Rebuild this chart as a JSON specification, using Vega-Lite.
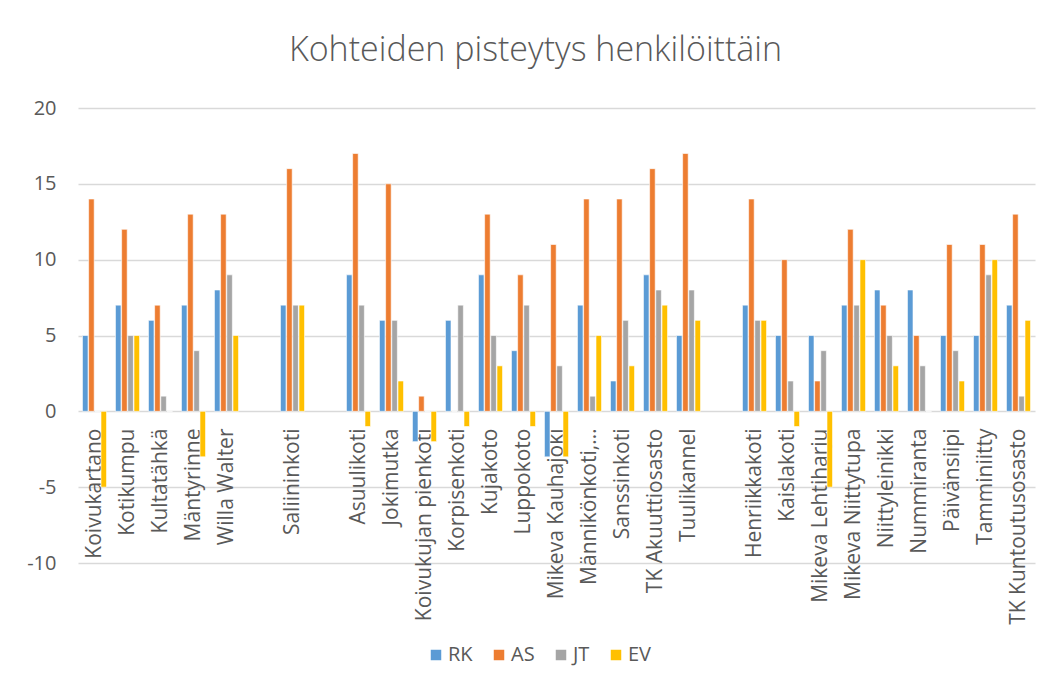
{
  "$schema": "https://vega.github.io/schema/vega-lite/v6.json",
  "width": 957,
  "height": 455,
  "autosize": {"type": "none"},
  "padding": {"left": 78, "top": 108, "right": 15, "bottom": 125},
  "background": "white",
  "title": {
    "text": "Kohteiden pisteytys henkilöittäin",
    "font": "Open Sans",
    "fontSize": 34,
    "fontWeight": 300,
    "color": "#595959",
    "anchor": "middle",
    "dx": -21,
    "offset": 30
  },
  "datasets": {
    "pisteet": [
      {"kohde": "Koivukartano", "henkilo": "RK", "pisteet": 5},
      {"kohde": "Koivukartano", "henkilo": "AS", "pisteet": 14},
      {"kohde": "Koivukartano", "henkilo": "JT", "pisteet": 0},
      {"kohde": "Koivukartano", "henkilo": "EV", "pisteet": -5},
      {"kohde": "Kotikumpu", "henkilo": "RK", "pisteet": 7},
      {"kohde": "Kotikumpu", "henkilo": "AS", "pisteet": 12},
      {"kohde": "Kotikumpu", "henkilo": "JT", "pisteet": 5},
      {"kohde": "Kotikumpu", "henkilo": "EV", "pisteet": 5},
      {"kohde": "Kultatähkä", "henkilo": "RK", "pisteet": 6},
      {"kohde": "Kultatähkä", "henkilo": "AS", "pisteet": 7},
      {"kohde": "Kultatähkä", "henkilo": "JT", "pisteet": 1},
      {"kohde": "Kultatähkä", "henkilo": "EV", "pisteet": 0},
      {"kohde": "Mäntyrinne", "henkilo": "RK", "pisteet": 7},
      {"kohde": "Mäntyrinne", "henkilo": "AS", "pisteet": 13},
      {"kohde": "Mäntyrinne", "henkilo": "JT", "pisteet": 4},
      {"kohde": "Mäntyrinne", "henkilo": "EV", "pisteet": -3},
      {"kohde": "Willa Walter", "henkilo": "RK", "pisteet": 8},
      {"kohde": "Willa Walter", "henkilo": "AS", "pisteet": 13},
      {"kohde": "Willa Walter", "henkilo": "JT", "pisteet": 9},
      {"kohde": "Willa Walter", "henkilo": "EV", "pisteet": 5},
      {"kohde": "Saliininkoti", "henkilo": "RK", "pisteet": 7},
      {"kohde": "Saliininkoti", "henkilo": "AS", "pisteet": 16},
      {"kohde": "Saliininkoti", "henkilo": "JT", "pisteet": 7},
      {"kohde": "Saliininkoti", "henkilo": "EV", "pisteet": 7},
      {"kohde": "Asuulikoti", "henkilo": "RK", "pisteet": 9},
      {"kohde": "Asuulikoti", "henkilo": "AS", "pisteet": 17},
      {"kohde": "Asuulikoti", "henkilo": "JT", "pisteet": 7},
      {"kohde": "Asuulikoti", "henkilo": "EV", "pisteet": -1},
      {"kohde": "Jokimutka", "henkilo": "RK", "pisteet": 6},
      {"kohde": "Jokimutka", "henkilo": "AS", "pisteet": 15},
      {"kohde": "Jokimutka", "henkilo": "JT", "pisteet": 6},
      {"kohde": "Jokimutka", "henkilo": "EV", "pisteet": 2},
      {"kohde": "Koivukujan pienkoti", "henkilo": "RK", "pisteet": -2},
      {"kohde": "Koivukujan pienkoti", "henkilo": "AS", "pisteet": 1},
      {"kohde": "Koivukujan pienkoti", "henkilo": "JT", "pisteet": 0},
      {"kohde": "Koivukujan pienkoti", "henkilo": "EV", "pisteet": -2},
      {"kohde": "Korpisenkoti", "henkilo": "RK", "pisteet": 6},
      {"kohde": "Korpisenkoti", "henkilo": "AS", "pisteet": 0},
      {"kohde": "Korpisenkoti", "henkilo": "JT", "pisteet": 7},
      {"kohde": "Korpisenkoti", "henkilo": "EV", "pisteet": -1},
      {"kohde": "Kujakoto", "henkilo": "RK", "pisteet": 9},
      {"kohde": "Kujakoto", "henkilo": "AS", "pisteet": 13},
      {"kohde": "Kujakoto", "henkilo": "JT", "pisteet": 5},
      {"kohde": "Kujakoto", "henkilo": "EV", "pisteet": 3},
      {"kohde": "Luppokoto", "henkilo": "RK", "pisteet": 4},
      {"kohde": "Luppokoto", "henkilo": "AS", "pisteet": 9},
      {"kohde": "Luppokoto", "henkilo": "JT", "pisteet": 7},
      {"kohde": "Luppokoto", "henkilo": "EV", "pisteet": -1},
      {"kohde": "Mikeva Kauhajoki", "henkilo": "RK", "pisteet": -3},
      {"kohde": "Mikeva Kauhajoki", "henkilo": "AS", "pisteet": 11},
      {"kohde": "Mikeva Kauhajoki", "henkilo": "JT", "pisteet": 3},
      {"kohde": "Mikeva Kauhajoki", "henkilo": "EV", "pisteet": -3},
      {"kohde": "Männikönkoti,…", "henkilo": "RK", "pisteet": 7},
      {"kohde": "Männikönkoti,…", "henkilo": "AS", "pisteet": 14},
      {"kohde": "Männikönkoti,…", "henkilo": "JT", "pisteet": 1},
      {"kohde": "Männikönkoti,…", "henkilo": "EV", "pisteet": 5},
      {"kohde": "Sanssinkoti", "henkilo": "RK", "pisteet": 2},
      {"kohde": "Sanssinkoti", "henkilo": "AS", "pisteet": 14},
      {"kohde": "Sanssinkoti", "henkilo": "JT", "pisteet": 6},
      {"kohde": "Sanssinkoti", "henkilo": "EV", "pisteet": 3},
      {"kohde": "TK Akuuttiosasto", "henkilo": "RK", "pisteet": 9},
      {"kohde": "TK Akuuttiosasto", "henkilo": "AS", "pisteet": 16},
      {"kohde": "TK Akuuttiosasto", "henkilo": "JT", "pisteet": 8},
      {"kohde": "TK Akuuttiosasto", "henkilo": "EV", "pisteet": 7},
      {"kohde": "Tuulikannel", "henkilo": "RK", "pisteet": 5},
      {"kohde": "Tuulikannel", "henkilo": "AS", "pisteet": 17},
      {"kohde": "Tuulikannel", "henkilo": "JT", "pisteet": 8},
      {"kohde": "Tuulikannel", "henkilo": "EV", "pisteet": 6},
      {"kohde": "Henriikkakoti", "henkilo": "RK", "pisteet": 7},
      {"kohde": "Henriikkakoti", "henkilo": "AS", "pisteet": 14},
      {"kohde": "Henriikkakoti", "henkilo": "JT", "pisteet": 6},
      {"kohde": "Henriikkakoti", "henkilo": "EV", "pisteet": 6},
      {"kohde": "Kaislakoti", "henkilo": "RK", "pisteet": 5},
      {"kohde": "Kaislakoti", "henkilo": "AS", "pisteet": 10},
      {"kohde": "Kaislakoti", "henkilo": "JT", "pisteet": 2},
      {"kohde": "Kaislakoti", "henkilo": "EV", "pisteet": -1},
      {"kohde": "Mikeva Lehtiharju", "henkilo": "RK", "pisteet": 5},
      {"kohde": "Mikeva Lehtiharju", "henkilo": "AS", "pisteet": 2},
      {"kohde": "Mikeva Lehtiharju", "henkilo": "JT", "pisteet": 4},
      {"kohde": "Mikeva Lehtiharju", "henkilo": "EV", "pisteet": -5},
      {"kohde": "Mikeva Niittytupa", "henkilo": "RK", "pisteet": 7},
      {"kohde": "Mikeva Niittytupa", "henkilo": "AS", "pisteet": 12},
      {"kohde": "Mikeva Niittytupa", "henkilo": "JT", "pisteet": 7},
      {"kohde": "Mikeva Niittytupa", "henkilo": "EV", "pisteet": 10},
      {"kohde": "Niittyleinikki", "henkilo": "RK", "pisteet": 8},
      {"kohde": "Niittyleinikki", "henkilo": "AS", "pisteet": 7},
      {"kohde": "Niittyleinikki", "henkilo": "JT", "pisteet": 5},
      {"kohde": "Niittyleinikki", "henkilo": "EV", "pisteet": 3},
      {"kohde": "Nummiranta", "henkilo": "RK", "pisteet": 8},
      {"kohde": "Nummiranta", "henkilo": "AS", "pisteet": 5},
      {"kohde": "Nummiranta", "henkilo": "JT", "pisteet": 3},
      {"kohde": "Nummiranta", "henkilo": "EV", "pisteet": 0},
      {"kohde": "Päivänsiipi", "henkilo": "RK", "pisteet": 5},
      {"kohde": "Päivänsiipi", "henkilo": "AS", "pisteet": 11},
      {"kohde": "Päivänsiipi", "henkilo": "JT", "pisteet": 4},
      {"kohde": "Päivänsiipi", "henkilo": "EV", "pisteet": 2},
      {"kohde": "Tamminiitty", "henkilo": "RK", "pisteet": 5},
      {"kohde": "Tamminiitty", "henkilo": "AS", "pisteet": 11},
      {"kohde": "Tamminiitty", "henkilo": "JT", "pisteet": 9},
      {"kohde": "Tamminiitty", "henkilo": "EV", "pisteet": 10},
      {"kohde": "TK Kuntoutusosasto", "henkilo": "RK", "pisteet": 7},
      {"kohde": "TK Kuntoutusosasto", "henkilo": "AS", "pisteet": 13},
      {"kohde": "TK Kuntoutusosasto", "henkilo": "JT", "pisteet": 1},
      {"kohde": "TK Kuntoutusosasto", "henkilo": "EV", "pisteet": 6}
    ]
  },
  "data": {"name": "pisteet"},
  "mark": {"type": "bar", "stroke": "white", "strokeWidth": 0.6},
  "encoding": {
    "x": {
      "field": "kohde",
      "type": "nominal",
      "sort": null,
      "scale": {
        "domain": ["Koivukartano", "Kotikumpu", "Kultatähkä", "Mäntyrinne", "Willa Walter", " ", "Saliininkoti", "  ", "Asuulikoti", "Jokimutka", "Koivukujan pienkoti", "Korpisenkoti", "Kujakoto", "Luppokoto", "Mikeva Kauhajoki", "Männikönkoti,…", "Sanssinkoti", "TK Akuuttiosasto", "Tuulikannel", "   ", "Henriikkakoti", "Kaislakoti", "Mikeva Lehtiharju", "Mikeva Niittytupa", "Niittyleinikki", "Nummiranta", "Päivänsiipi", "Tamminiitty", "TK Kuntoutusosasto"],
        "paddingInner": 0.27,
        "paddingOuter": 0.135
      },
      "axis": {
        "title": null,
        "offset": -152,
        "domain": false,
        "ticks": false,
        "labelAngle": -90,
        "labelPadding": 17,
        "labelFont": "Open Sans",
        "labelFontSize": 21,
        "labelColor": "#595959",
        "labelLimit": 400
      }
    },
    "xOffset": {
      "field": "henkilo",
      "type": "nominal",
      "sort": ["RK", "AS", "JT", "EV"],
      "scale": {"paddingInner": 0.1}
    },
    "y": {
      "field": "pisteet",
      "type": "quantitative",
      "scale": {"domain": [-10, 20]},
      "axis": {
        "title": null,
        "values": [-10, -5, 0, 5, 10, 15, 20],
        "domain": false,
        "ticks": false,
        "labelPadding": 22,
        "labelFont": "Open Sans",
        "labelFontSize": 20,
        "labelColor": "#595959",
        "gridColor": "#d9d9d9",
        "gridWidth": 1.3
      }
    },
    "color": {
      "field": "henkilo",
      "type": "nominal",
      "scale": {
        "domain": ["RK", "AS", "JT", "EV"],
        "range": ["#5B9BD5", "#ED7D31", "#A5A5A5", "#FFC000"]
      },
      "legend": {
        "title": null,
        "orient": "none",
        "direction": "horizontal",
        "legendX": 348,
        "legendY": 537,
        "symbolType": "square",
        "symbolSize": 110,
        "symbolStrokeWidth": 0,
        "labelFont": "Open Sans",
        "labelFontSize": 20,
        "labelColor": "#595959",
        "columnPadding": 16,
        "labelOffset": 2
      }
    }
  },
  "config": {
    "view": {"stroke": null},
    "locale": {
      "number": {
        "decimal": ".",
        "thousands": ",",
        "grouping": [3],
        "currency": ["", ""],
        "minus": "-"
      }
    }
  }
}
